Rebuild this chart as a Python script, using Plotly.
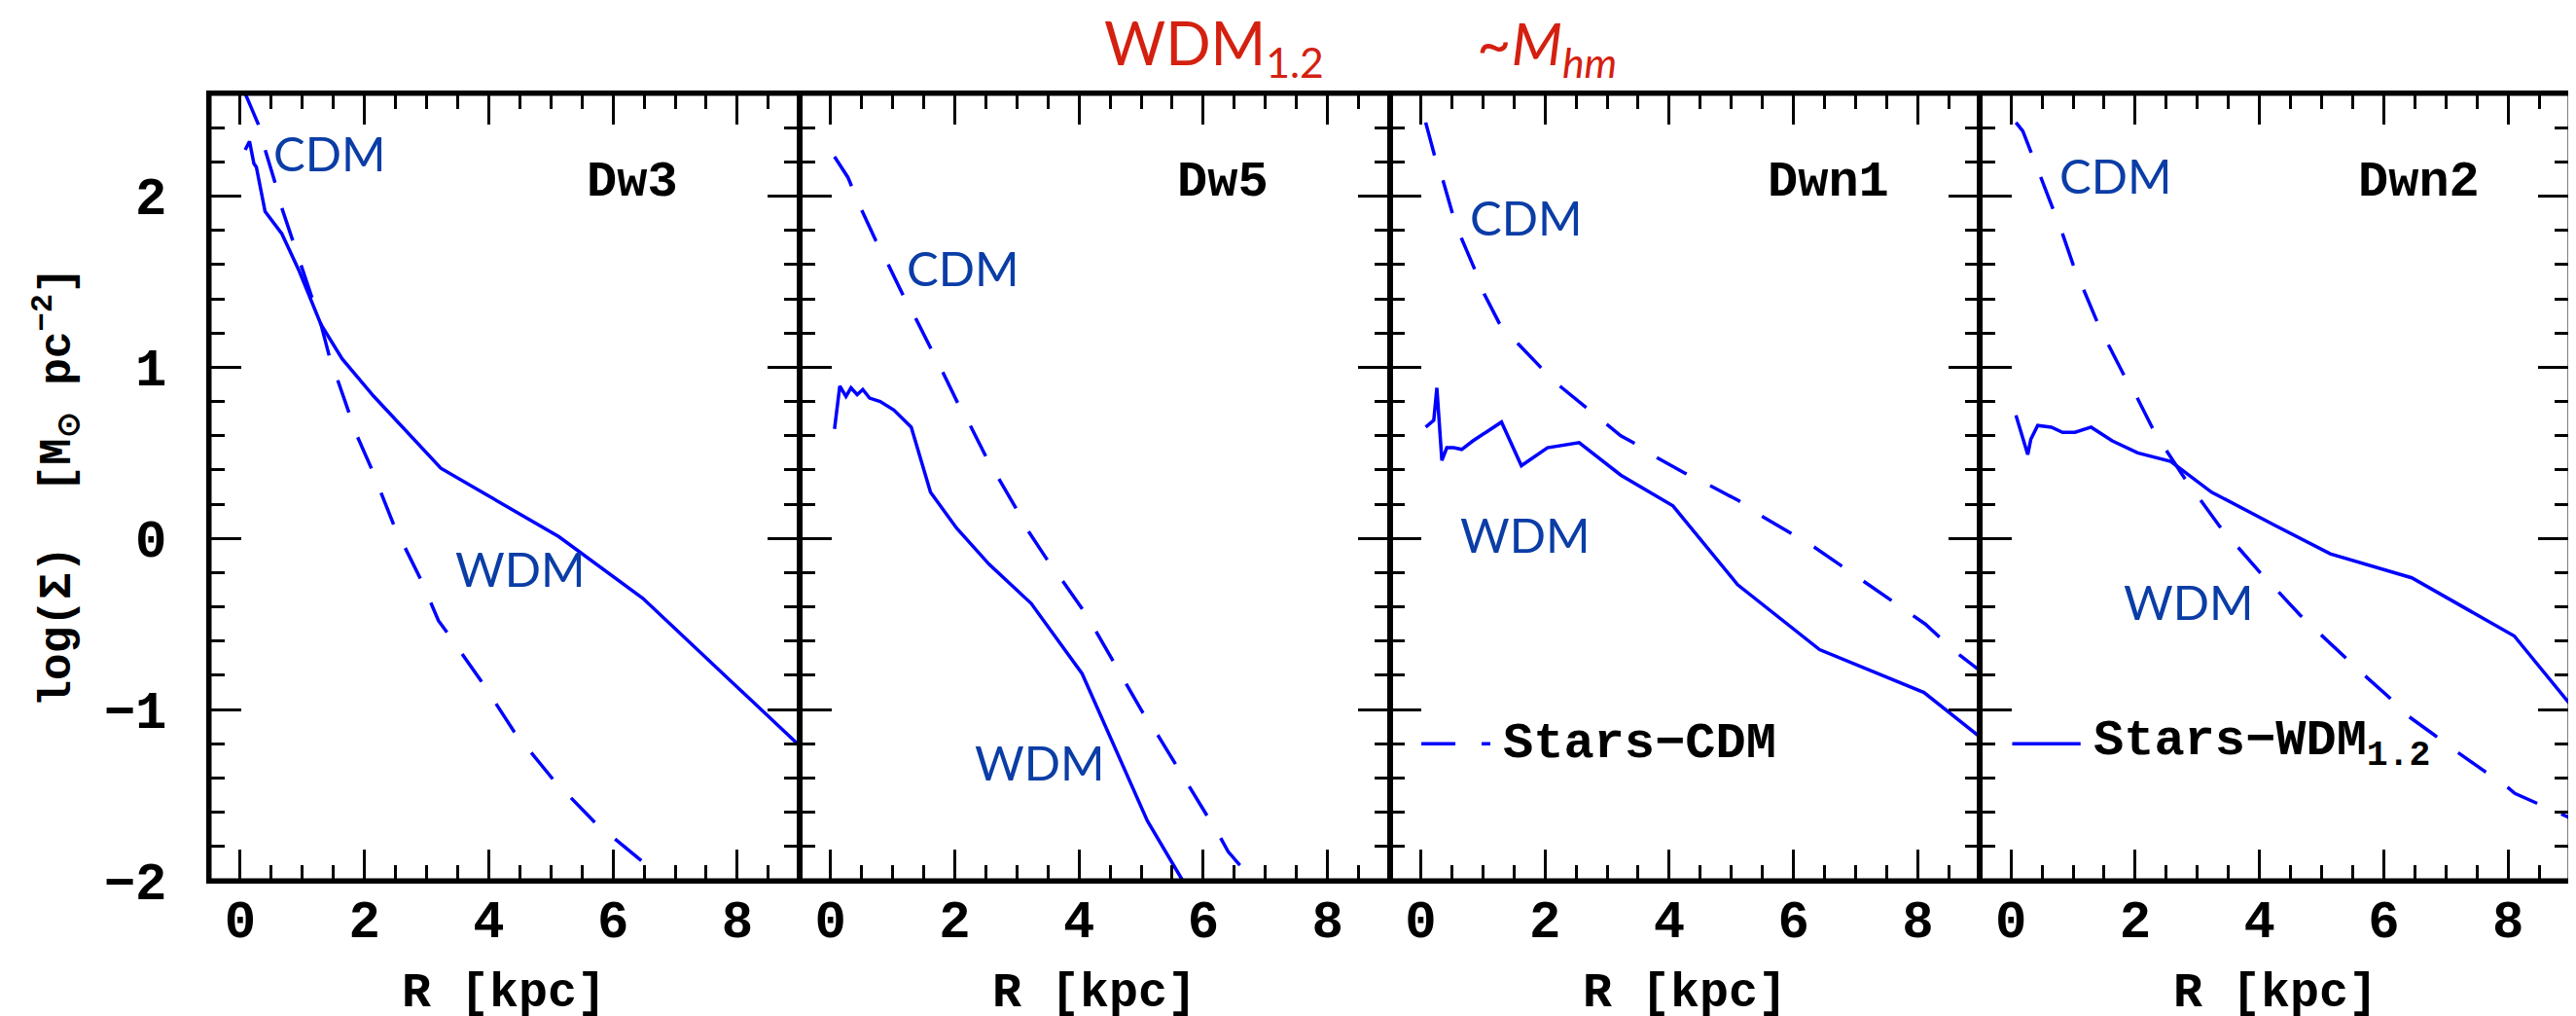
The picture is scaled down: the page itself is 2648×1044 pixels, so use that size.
import plotly.graph_objects as go

# ---------------- data ----------------
panel_names = ["Dw3", "Dw5", "Dwn1", "Dwn2"]

dw3_cdm_r = [0.08, 0.29, 0.41, 0.56, 0.67, 0.85, 0.99, 1.17, 1.30, 1.43, 1.57, 1.66, 1.88, 2.11, 2.47, 2.92, 3.19, 3.37, 3.91, 4.41, 5.04, 5.71, 6.48]
dw3_cdm_s = [2.60, 2.42, 2.26, 2.08, 1.93, 1.74, 1.58, 1.40, 1.25, 1.07, 0.92, 0.83, 0.60, 0.41, 0.08, -0.25, -0.48, -0.57, -0.85, -1.13, -1.41, -1.66, -1.89]
dw3_wdm_r = [0.08, 0.15, 0.22, 0.26, 0.40, 0.67, 0.94, 1.30, 1.64, 2.15, 3.23, 5.13, 6.48, 9.0]
dw3_wdm_s = [2.27, 2.32, 2.19, 2.17, 1.91, 1.78, 1.57, 1.25, 1.05, 0.83, 0.41, 0.01, -0.35, -1.21]

dw5_cdm_r = [0.065, 0.28, 0.50, 0.73, 0.93, 1.17, 1.38, 1.62, 1.81, 2.05, 2.25, 2.50, 2.71, 2.98, 3.19, 3.48, 3.74, 4.05, 4.27, 4.54, 4.77, 5.03, 5.27, 5.54, 5.77, 6.06, 6.28, 6.40, 6.59]
dw5_cdm_s = [2.23, 2.11, 1.92, 1.74, 1.60, 1.42, 1.28, 1.11, 0.97, 0.79, 0.66, 0.48, 0.35, 0.18, 0.04, -0.12, -0.25, -0.41, -0.54, -0.71, -0.85, -1.02, -1.15, -1.31, -1.45, -1.62, -1.75, -1.83, -1.91]
dw5_wdm_r = [0.065, 0.15, 0.25, 0.33, 0.43, 0.52, 0.63, 0.80, 1.02, 1.30, 1.61, 2.03, 2.55, 3.23, 4.05, 5.10, 5.67]
dw5_wdm_s = [0.64, 0.89, 0.83, 0.88, 0.84, 0.87, 0.82, 0.80, 0.75, 0.65, 0.27, 0.06, -0.15, -0.38, -0.79, -1.65, -2.0]

dwn1_cdm_r = [0.08, 0.22, 0.36, 0.51, 0.66, 0.86, 1.02, 1.26, 1.56, 1.93, 2.24, 2.65, 3.00, 3.22, 3.42, 3.81, 4.26, 4.65, 5.12, 5.49, 5.96, 6.33, 6.77, 7.13, 7.58, 7.93, 8.12, 8.33, 8.67, 8.99]
dwn1_cdm_s = [2.43, 2.24, 2.09, 1.90, 1.75, 1.58, 1.43, 1.26, 1.14, 1.00, 0.89, 0.77, 0.67, 0.60, 0.56, 0.47, 0.38, 0.31, 0.22, 0.13, 0.03, -0.05, -0.16, -0.25, -0.36, -0.45, -0.50, -0.57, -0.68, -0.77]
dwn1_wdm_r = [0.08, 0.21, 0.26, 0.34, 0.42, 0.53, 0.66, 0.84, 1.05, 1.30, 1.62, 2.04, 2.55, 3.22, 4.06, 5.10, 6.42, 8.10, 9.0]
dwn1_wdm_s = [0.65, 0.69, 0.88, 0.455, 0.53, 0.53, 0.52, 0.57, 0.62, 0.68, 0.425, 0.53, 0.56, 0.37, 0.19, -0.27, -0.65, -0.90, -1.16]

dwn2_cdm_r = [0.08, 0.19, 0.32, 0.48, 0.66, 0.82, 1.00, 1.18, 1.37, 1.57, 1.81, 2.02, 2.27, 2.49, 2.78, 3.04, 3.36, 3.65, 4.01, 4.30, 4.66, 4.98, 5.36, 5.69, 6.09, 6.40, 6.82, 7.19, 7.62, 7.98, 8.11, 8.43, 8.85, 8.98]
dwn2_cdm_s = [2.43, 2.38, 2.26, 2.11, 1.93, 1.79, 1.60, 1.45, 1.28, 1.13, 0.96, 0.83, 0.65, 0.52, 0.36, 0.23, 0.07, -0.05, -0.20, -0.31, -0.45, -0.56, -0.69, -0.80, -0.93, -1.04, -1.15, -1.25, -1.36, -1.45, -1.49, -1.54, -1.61, -1.63]
dwn2_wdm_r = [0.08, 0.21, 0.27, 0.32, 0.43, 0.65, 0.83, 1.03, 1.29, 1.63, 2.04, 2.57, 3.23, 4.23, 5.14, 6.45, 8.10, 8.98]
dwn2_wdm_s = [0.72, 0.57, 0.49, 0.58, 0.66, 0.65, 0.62, 0.62, 0.65, 0.57, 0.50, 0.45, 0.27, 0.08, -0.09, -0.23, -0.57, -0.96]

# label positions (data coords) per panel
cdm_label_pos = [(0.50, 2.255), (1.19, 1.58), (0.76, 1.88), (0.75, 2.125)]
wdm_label_pos = [(3.43, -0.175), (2.29, -1.305), (0.60, 0.024), (1.78, -0.366)]
name_label_pos = (5.55, 2.08)
legend_y = -1.2

x_range = [-0.5, 9.0]
y_range = [-2.0, 2.6]

# ---------------- style ----------------
LINE_BLUE = "#0000ff"
LABEL_BLUE = "#0b3da6"
TITLE_RED = "#d42010"
MONO = "Liberation Mono"
SANS = "Lato"
DASH = "35px,27px"
LW = 3.5
AXW = 2.5

W, H = 2648, 1044
ML, MR, MT, MB = 207, 14, 88, 147
pw = W - ML - MR
ph = H - MT - MB

fig = go.Figure()

panels = [
    (dw3_cdm_r, dw3_cdm_s, dw3_wdm_r, dw3_wdm_s),
    (dw5_cdm_r, dw5_cdm_s, dw5_wdm_r, dw5_wdm_s),
    (dwn1_cdm_r, dwn1_cdm_s, dwn1_wdm_r, dwn1_wdm_s),
    (dwn2_cdm_r, dwn2_cdm_s, dwn2_wdm_r, dwn2_wdm_s),
]

annotations = []
shapes = []
layout_axes = {}

tickfont = dict(family=MONO, size=54, color="black", weight="bold")

for i, (cr, cs, wr, ws) in enumerate(panels):
    k = "" if i == 0 else str(i + 1)
    xa, ya = "x" + k, "y" + k
    fig.add_trace(go.Scatter(x=cr, y=cs, mode="lines", xaxis=xa, yaxis=ya,
                             line=dict(color=LINE_BLUE, width=LW, dash=DASH),
                             showlegend=False, hoverinfo="skip"))
    fig.add_trace(go.Scatter(x=wr, y=ws, mode="lines", xaxis=xa, yaxis=ya,
                             line=dict(color=LINE_BLUE, width=LW),
                             showlegend=False, hoverinfo="skip"))

    layout_axes["xaxis" + k] = dict(
        domain=[i / 4, (i + 1) / 4], anchor=ya, range=x_range,
        tickmode="linear", tick0=0, dtick=2,
        ticks="inside", ticklen=32, tickwidth=3, tickcolor="black",
        minor=dict(dtick=0.5, tick0=0, ticks="inside", ticklen=16, tickwidth=3,
                   tickcolor="black", showgrid=False),
        showline=True, linewidth=AXW, linecolor="black", mirror="allticks",
        showgrid=False, zeroline=False,
        tickfont=tickfont, ticklabelstandoff=-10,
    )
    yax = dict(
        domain=[0, 1], anchor=xa, range=y_range,
        tickmode="linear", tick0=0, dtick=1,
        ticks="inside", ticklen=33, tickwidth=3, tickcolor="black",
        minor=dict(dtick=0.2, tick0=0, ticks="inside", ticklen=16, tickwidth=3,
                   tickcolor="black", showgrid=False),
        showline=True, linewidth=AXW, linecolor="black", mirror="allticks",
        showgrid=False, zeroline=False,
        tickfont=tickfont,
        showticklabels=(i == 0), ticklabelstandoff=30,
    )
    if i > 0:
        yax["matches"] = "y"
    layout_axes["yaxis" + k] = yax

    annotations.append(dict(x=cdm_label_pos[i][0], y=cdm_label_pos[i][1], xref=xa, yref=ya,
                            text="CDM", showarrow=False, xanchor="left", yanchor="middle",
                            font=dict(family=SANS, size=49, color=LABEL_BLUE)))
    annotations.append(dict(x=wdm_label_pos[i][0], y=wdm_label_pos[i][1], xref=xa, yref=ya,
                            text="WDM", showarrow=False, xanchor="left", yanchor="middle",
                            font=dict(family=SANS, size=49, color=LABEL_BLUE)))
    annotations.append(dict(x=name_label_pos[0], y=name_label_pos[1], xref=xa, yref=ya,
                            text=panel_names[i], showarrow=False, xanchor="left", yanchor="middle",
                            font=dict(family=MONO, size=52, color="black", weight="bold")))
    annotations.append(dict(x=4.25, y=-(1012 - (H - MB)) / ph, xref=xa, yref="paper",
                            text="R [kpc]", showarrow=False, xanchor="center", yanchor="middle",
                            font=dict(family=MONO, size=50, color="black", weight="bold")))

# outer frame (thicker border like the reference)
shapes.append(dict(type="rect", xref="paper", yref="paper", x0=0, x1=1, y0=0, y1=1,
                   line=dict(color="black", width=5), fillcolor="rgba(0,0,0,0)", layer="above"))

# legend samples (panel 3 and 4)
shapes.append(dict(type="line", xref="x3", yref="y3", x0=0.01, x1=1.12, y0=legend_y, y1=legend_y,
                   line=dict(color=LINE_BLUE, width=LW, dash=DASH)))
shapes.append(dict(type="line", xref="x4", yref="y4", x0=0.02, x1=1.12, y0=legend_y, y1=legend_y,
                   line=dict(color=LINE_BLUE, width=LW)))
annotations.append(dict(x=1.30, y=legend_y, xref="x3", yref="y3", text="Stars\u2212CDM",
                        showarrow=False, xanchor="left", yanchor="middle",
                        font=dict(family=MONO, size=52, color="black", weight="bold")))
annotations.append(dict(x=1.30, y=legend_y, xref="x4", yref="y4",
                        text="Stars\u2212WDM<sub>1.2</sub>",
                        showarrow=False, xanchor="left", yanchor="middle",
                        font=dict(family=MONO, size=52, color="black", weight="bold")))

# y axis title
annotations.append(dict(x=(50 - ML) / pw, y=0.5, xref="paper", yref="paper",
                        text="log(\u03a3)\u00a0\u00a0[M<sub>\u2299</sub> pc<sup>\u22122</sup>]",
                        textangle=-90, showarrow=False, xanchor="center", yanchor="middle",
                        font=dict(family=MONO, size=46, color="black", weight="bold")))

# top titles
annotations.append(dict(x=(1125 - ML) / pw, y=(H - MB - 40) / ph, xref="paper", yref="paper",
                        text="WDM<sub>1.2</sub>", showarrow=False, xanchor="left", yanchor="middle",
                        font=dict(family=SANS, size=61, color=TITLE_RED)))
annotations.append(dict(x=(1508 - ML) / pw, y=(H - MB - 40) / ph, xref="paper", yref="paper",
                        text="~<i>M<sub>hm</sub></i>", showarrow=False, xanchor="left", yanchor="middle",
                        font=dict(family=SANS, size=61, color=TITLE_RED)))

fig.update_layout(
    width=W, height=H,
    margin=dict(l=ML, r=MR, t=MT, b=MB),
    paper_bgcolor="white", plot_bgcolor="white",
    showlegend=False,
    annotations=annotations, shapes=shapes,
    **layout_axes,
)

fig.write_html("out.html")
